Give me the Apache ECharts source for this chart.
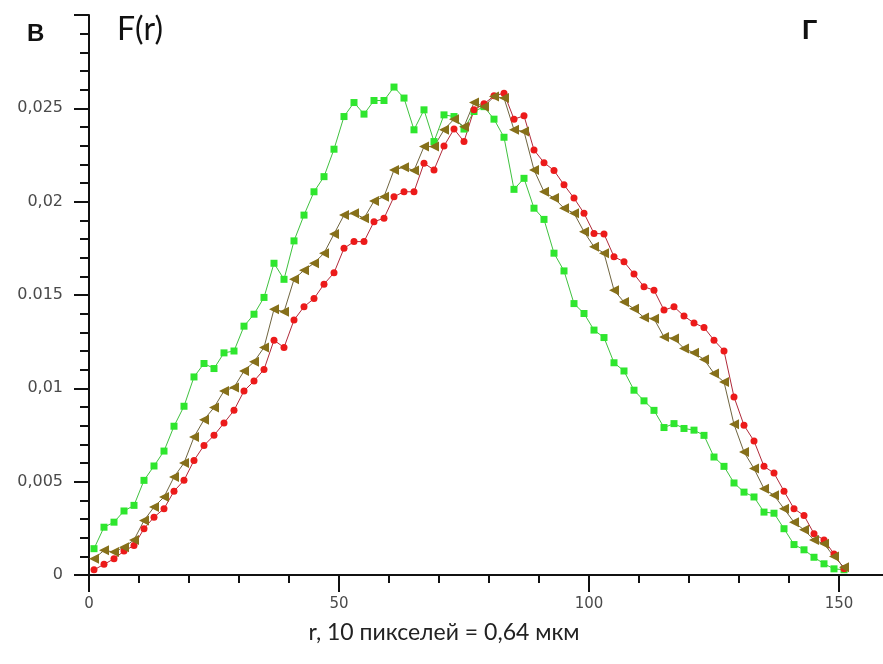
<!DOCTYPE html>
<html>
<head>
<meta charset="utf-8">
<script src="https://cdn.jsdelivr.net/npm/echarts@6/dist/echarts.min.js"></script>
<style>
  html, body { margin: 0; padding: 0; background: #fff; }
  #chart { width: 883px; height: 664px; }
</style>
</head>
<body>
<div id="chart"></div>
<script>
// радиус r (пиксели), общий для трёх кривых
var rValues = [1, 3, 5, 7, 9, 11, 13, 15, 17, 19, 21, 23, 25, 27, 29, 31, 33, 35, 37, 39,
  41, 43, 45, 47, 49, 51, 53, 55, 57, 59, 61, 63, 65, 67, 69, 71, 73, 75, 77, 79,
  81, 83, 85, 87, 89, 91, 93, 95, 97, 99, 101, 103, 105, 107, 109, 111, 113, 115, 117, 119,
  121, 123, 125, 127, 129, 131, 133, 135, 137, 139, 141, 143, 145, 147, 149, 151]

// F(r) — зелёные квадраты
var greenF = [0.00141, 0.00256, 0.00283, 0.00343, 0.00373, 0.00507, 0.00584, 0.00664, 0.00797, 0.00904,
  0.01061, 0.01133, 0.01106, 0.01190, 0.01200, 0.01333, 0.01397, 0.01487, 0.01670, 0.01584,
  0.01790, 0.01928, 0.02053, 0.02134, 0.02281, 0.02456, 0.02531, 0.02469, 0.02542, 0.02542,
  0.02614, 0.02555, 0.02385, 0.02492, 0.02322, 0.02465, 0.02456, 0.02389, 0.02483, 0.02509,
  0.02442, 0.02345, 0.02066, 0.02125, 0.01965, 0.01905, 0.01724, 0.01629, 0.01454, 0.01401,
  0.01312, 0.01272, 0.01137, 0.01093, 0.00990, 0.00933, 0.00882, 0.00790, 0.00811, 0.00785,
  0.00776, 0.00748, 0.00632, 0.00582, 0.00493, 0.00444, 0.00418, 0.00337, 0.00331, 0.00248,
  0.00163, 0.00135, 0.00095, 0.00060, 0.00033, 0.00028]

// F(r) — красные кружки
var redF = [0.00028, 0.00057, 0.00087, 0.00128, 0.00158, 0.00248, 0.00310, 0.00355, 0.00449, 0.00507,
  0.00614, 0.00694, 0.00748, 0.00814, 0.00882, 0.00986, 0.01039, 0.01101, 0.01258, 0.01219,
  0.01366, 0.01437, 0.01481, 0.01558, 0.01619, 0.01750, 0.01786, 0.01786, 0.01893, 0.01911,
  0.02027, 0.02053, 0.02053, 0.02206, 0.02170, 0.02298, 0.02389, 0.02322, 0.02492, 0.02524,
  0.02567, 0.02581, 0.02442, 0.02460, 0.02277, 0.02209, 0.02167, 0.02090, 0.02019, 0.01938,
  0.01830, 0.01827, 0.01705, 0.01678, 0.01612, 0.01544, 0.01526, 0.01419, 0.01437, 0.01387,
  0.01350, 0.01326, 0.01258, 0.01200, 0.00954, 0.00802, 0.00718, 0.00582, 0.00546, 0.00449,
  0.00355, 0.00319, 0.00221, 0.00188, 0.00113, 0.00033]

// F(r) — оливковые треугольники
var oliveF = [0.00087, 0.00132, 0.00123, 0.00149, 0.00188, 0.00292, 0.00364, 0.00418, 0.00525, 0.00600,
  0.00739, 0.00832, 0.00897, 0.00986, 0.01005, 0.01093, 0.01142, 0.01219, 0.01424, 0.01410,
  0.01584, 0.01633, 0.01670, 0.01724, 0.01827, 0.01928, 0.01938, 0.01911, 0.02003, 0.02027,
  0.02170, 0.02185, 0.02167, 0.02295, 0.02295, 0.02385, 0.02442, 0.02402, 0.02531, 0.02509,
  0.02563, 0.02555, 0.02385, 0.02376, 0.02170, 0.02053, 0.02019, 0.01965, 0.01938, 0.01839,
  0.01758, 0.01724, 0.01526, 0.01462, 0.01426, 0.01379, 0.01373, 0.01275, 0.01267, 0.01214,
  0.01190, 0.01155, 0.01080, 0.01034, 0.00807, 0.00659, 0.00570, 0.00462, 0.00427, 0.00355,
  0.00283, 0.00242, 0.00188, 0.00167, 0.00099, 0.00041]

// подписи делений
var yTickLabels = ['0', '0,005', '0,01', '0.015', '0,02', '0,025', '']
var xMajorTicks = [0, 50, 100, 150]
var xTickLabels = ['0', '50', '100', '150']
var xMinorTicks = [10, 20, 30, 40, 60, 70, 80, 90, 110, 120, 130, 140]

function pairs(ys) {
  return rValues.map(function(r, i) { return [r, ys[i]] })
}

function xLabel(v) {
  for (var i = 0; i < xMajorTicks.length; i++) {
    if (Math.abs(v - xMajorTicks[i]) < 1e-9) return xTickLabels[i]
  }
  return ''
}

var chart = echarts.init(document.getElementById('chart'), null, { renderer: 'canvas' })

var axisColor = '#111'
var labelColor = '#4a4a4a'
var xMax = 158.8

chart.setOption({
  animation: false,
  backgroundColor: '#fff',
  grid: { left: 89, right: 0, top: 15, bottom: 89, containLabel: false },
  xAxis: [
    {
      type: 'value',
      min: 0,
      max: xMax,
      position: 'bottom',
      axisLine: { onZero: false, lineStyle: { color: axisColor, width: 2 } },
      axisTick: { length: 17, customValues: xMajorTicks, lineStyle: { color: axisColor, width: 2 } },
      axisLabel: {
        customValues: xMajorTicks,
        margin: 22,
        color: labelColor,
        fontFamily: 'DejaVu Sans',
        fontSize: 15,
        formatter: xLabel
      },
      splitLine: { show: false }
    },
    {
      type: 'value',
      min: 0,
      max: xMax,
      position: 'bottom',
      axisLine: { show: false, onZero: false },
      axisTick: { length: 8, customValues: xMinorTicks, lineStyle: { color: axisColor, width: 2 } },
      axisLabel: { show: false },
      splitLine: { show: false }
    }
  ],
  yAxis: {
    type: 'value',
    min: 0,
    max: 0.03,
    interval: 0.005,
    axisLine: { show: true, onZero: false, lineStyle: { color: axisColor, width: 2 } },
    axisTick: { show: true, length: 15, lineStyle: { color: axisColor, width: 2 } },
    minorTick: { show: true, splitNumber: 5, length: 9, lineStyle: { color: axisColor, width: 2 } },
    axisLabel: {
      margin: 26,
      color: labelColor,
      fontFamily: 'DejaVu Sans',
      fontSize: 16,
      formatter: function(v) {
        var i = Math.round(v / 0.005)
        return i < yTickLabels.length ? yTickLabels[i] : ''
      }
    },
    splitLine: { show: false }
  },
  series: [
    {
      name: 'green',
      type: 'line',
      data: pairs(greenF),
      symbol: 'rect',
      symbolSize: 7,
      itemStyle: { color: '#2ee62e' },
      lineStyle: { color: '#3fc23f', width: 1 }
    },
    {
      name: 'red',
      type: 'line',
      data: pairs(redF),
      symbol: 'circle',
      symbolSize: 7,
      itemStyle: { color: '#ec1a1a' },
      lineStyle: { color: '#b02a3a', width: 1 }
    },
    {
      name: 'olive',
      type: 'line',
      data: pairs(oliveF),
      symbol: 'triangle',
      symbolRotate: 90,
      symbolSize: 10,
      itemStyle: { color: '#86701a' },
      lineStyle: { color: '#6f6540', width: 1 }
    }
  ],
  graphic: [
    { type: 'text', left: 27, top: 22, style: { text: 'В', font: 'bold 24px "Liberation Sans"', fill: '#111' } },
    { type: 'text', left: 117, top: 14, style: { text: 'F(r)', font: '32px Lato', fill: '#111' } },
    { type: 'text', left: 802, top: 18, style: { text: 'Г', font: 'bold 27px "Liberation Sans"', fill: '#111' } },
    {
      type: 'text',
      x: 444,
      y: 633,
      style: {
        text: 'r, 10 пикселей = 0,64 мкм',
        font: '23px Lato',
        fill: '#222',
        align: 'center',
        verticalAlign: 'middle'
      }
    }
  ]
})
</script>
</body>
</html>
